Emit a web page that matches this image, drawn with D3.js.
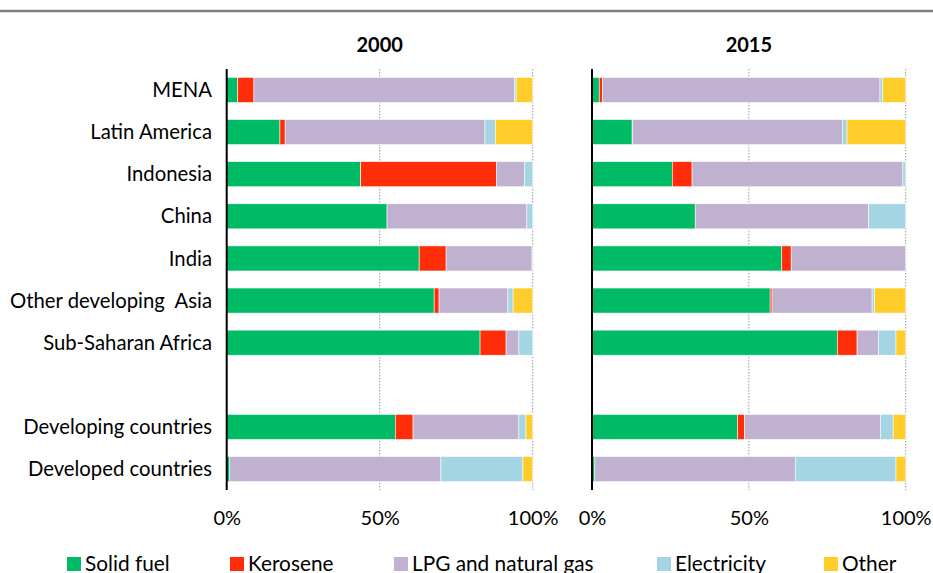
<!DOCTYPE html>
<html><head><meta charset="utf-8">
<script src="https://cdn.jsdelivr.net/npm/d3@7"></script>
<style>
body{margin:0;background:#fff;}
text{font-family:Lato,"Open Sans",sans-serif;fill:#000;}
</style></head>
<body><svg id="c" width="933" height="573"></svg>
<script>
const categories = ["MENA","Latin America","Indonesia","China","India","Other developing  Asia","Sub-Saharan Africa","","Developing countries","Developed countries"];
const years = ["2000","2015"];
const seriesNames = ["Solid fuel","Kerosene","LPG and natural gas","Electricity","Other"];
const seriesColors = ["#00BB66","#FF2D08","#C0B1D1","#A3D5E2","#FFCC29"];
const ticks = [0,50,100];
const tickLabels = ["0%","50%","100%"];
// values per series, in category order (spacer excluded)
const solid2000 =      [3.6,17.4,43.8,52.4,62.9,67.8,82.8,55.1,1.0];
const kerosene2000 =   [5.3,1.7,44.3,0,8.8,1.6,8.5,5.8,0];
const lpg2000 =        [85.2,65.3,9.2,45.7,28.1,22.5,4.2,34.6,69.0];
const electricity2000 =[0.5,3.4,2.7,1.9,0.2,1.7,4.5,2.3,26.8];
const other2000 =      [5.4,12.2,0,0,0,6.4,0,2.2,3.2];
const solid2015 =      [2.3,12.8,25.6,32.9,60.5,56.8,78.2,46.4,0.9];
const kerosene2015 =   [1.1,0.2,6.3,0,3.0,0.6,6.3,2.2,0];
const lpg2015 =        [88.4,66.8,67.2,55.3,36.5,31.9,6.9,43.3,63.9];
const electricity2015 =[0.9,1.5,0.9,11.8,0,0.8,5.5,4.1,32.1];
const other2015 =      [7.3,18.7,0,0,0,9.9,3.1,4.0,3.1];

const dataCats = categories.filter(c=>c!=="");
const yearSeries = {
  "2000":[solid2000,kerosene2000,lpg2000,electricity2000,other2000],
  "2015":[solid2015,kerosene2015,lpg2015,electricity2015,other2015]
};

const svg = d3.select("#c");
// top rule
svg.append("line").attr("x1",0).attr("x2",933).attr("y1",11).attr("y2",11)
  .attr("stroke","#808080").attr("stroke-width",2.5);

const y = d3.scaleBand().domain(categories.map((c,i)=>i)).range([69,490])
  .paddingInner(0.405).paddingOuter(0.2);

const panels = [{year:"2000",x0:226.7,x1:532.7},{year:"2015",x0:592,x1:905.7}];

panels.forEach(p=>{
  const x = d3.scaleLinear().domain([0,100]).range([p.x0,p.x1]);
  const g = svg.append("g");
  // gridlines
  g.selectAll("line.grid").data(ticks.filter(t=>t>0)).join("line")
    .attr("x1",d=>x(d)).attr("x2",d=>x(d)).attr("y1",69).attr("y2",490)
    .attr("stroke","#9a9a9a").attr("stroke-width",1).attr("stroke-dasharray","1.5,1.5");
  // stacked bars
  const rows = dataCats.map((c,i)=>{
    const o={cat:c};
    seriesNames.forEach((s,j)=>o[s]=yearSeries[p.year][j][i]);
    return o;
  });
  const stack = d3.stack().keys(seriesNames)(rows);
  stack.forEach((layer,j)=>{
    g.selectAll(null).data(layer).join("rect")
      .attr("x",d=>x(d[0]))
      .attr("width",d=>Math.max(0,x(d[1])-x(d[0])))
      .attr("y",d=>y(categories.indexOf(d.data.cat)))
      .attr("height",y.bandwidth())
      .attr("fill",seriesColors[j])
      .attr("stroke","#fff").attr("stroke-width",0.6)
      .attr("stroke-opacity",d=>(d[1]-d[0])>0?0.9:0);
  });
  // axis line
  g.append("line").attr("x1",p.x0).attr("x2",p.x0).attr("y1",69).attr("y2",490)
    .attr("stroke","#000").attr("stroke-width",2);
  // x tick labels
  const ax = d3.axisBottom(x).tickValues(ticks).tickFormat((d,i)=>tickLabels[i]).tickSize(0).tickPadding(0);
  const axg = g.append("g").attr("transform","translate(0,511)").call(ax);
  axg.select(".domain").remove();
  axg.selectAll("text").attr("font-size",20).attr("font-family","Lato,'Open Sans',sans-serif").attr("fill","#000");
  // title
  g.append("text").attr("x",(p.x0+p.x1)/2).attr("y",52).attr("text-anchor","middle")
    .attr("font-weight","bold").attr("font-size",20).text(p.year);
});

// category labels
svg.selectAll("text.cat").data(categories).join("text")
  .attr("class","cat").attr("x",212).attr("y",(d,i)=>y(i)+y.bandwidth()/2)
  .attr("dy","0.35em").attr("text-anchor","end").attr("font-size",20.3)
  .style("white-space","pre").text(d=>d);

// legend
const legendX = [67,230,394,657,824];
const lg = svg.selectAll("g.leg").data(seriesNames).join("g")
  .attr("transform",(d,i)=>`translate(${legendX[i]},557)`);
lg.append("rect").attr("width",14).attr("height",14).attr("fill",(d,i)=>seriesColors[i]);
lg.append("text").attr("x",18).attr("y",13.5).attr("font-size",20.8).text(d=>d);
</script></body></html>
